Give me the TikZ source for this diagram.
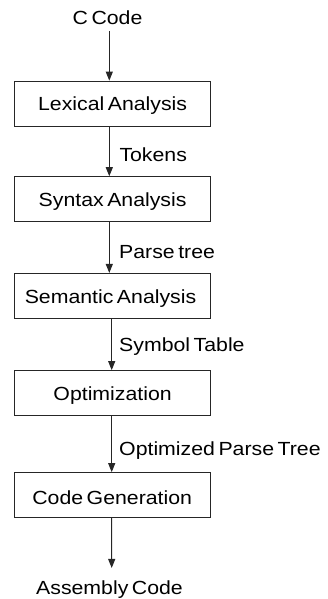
\documentclass[tikz,border=0pt]{standalone}
\usepackage{fontspec}
\setmainfont{Liberation Sans}[FakeStretch=1.12,WordSpace=0.6]
\usetikzlibrary{arrows.meta}
\begin{document}
\begin{tikzpicture}[x=1pt,y=1pt,
  font=\fontsize{19}{22}\selectfont,
  stage/.style={draw=black!85,line width=1.1pt,minimum width=196pt,minimum height=45pt,inner sep=0pt},
  flow/.style={draw=black!85,line width=1pt,-{Triangle[width=7pt,length=9pt]}},
  lbl/.style={anchor=base west,inner sep=0pt},
  io/.style={anchor=base,inner sep=0pt}]
\useasboundingbox (0,0) rectangle (327,599);
% compiler stages, top to bottom
\node[stage] (lex) at (112.6,495.3) {};
\node[stage] (syn) at (112.6,399.7) {};
\node[stage] (sem) at (112.6,303.0) {};
\node[stage] (opt) at (112.6,205.8) {};
\node[stage] (gen) at (112.6,103.8) {};
\node[io] (lextxt) at (112.6,488) {Lexical Analysis};
\node[io] (syntxt) at (112.6,392) {Syntax Analysis};
\node[io] (semtxt) at (110.5,295.5) {Semantic Analysis};
\node[io] (opttxt) at (112.6,198.5) {Optimization};
\node[io] (gentxt) at (112.2,94.7) {Code Generation};
% input and output
\node[io] (src) at (107.5,574) {C Code};
\node[io] (asm) at (109.5,5) {Assembly Code};
\coordinate (srcend) at (109.3,568);
\coordinate (asmend) at (111.7,31);
% arrows between stages
\draw[flow] (srcend) -- ([xshift=-3.3pt]lex.north);
\draw[flow] ([xshift=-3.3pt]lex.south) -- ([xshift=-3.3pt]syn.north);
\draw[flow] ([xshift=-3.3pt]syn.south) -- ([xshift=-3.3pt]sem.north);
\draw[flow] ([xshift=-0.9pt]sem.south) -- ([xshift=-0.9pt]opt.north);
\draw[flow] ([xshift=-0.9pt]opt.south) -- ([xshift=-0.9pt]gen.north);
\draw[flow] ([xshift=-0.9pt]gen.south) -- (asmend);
% intermediate representations
\node[lbl] (t1) at (119.3,437.3) {Tokens};
\node[lbl] (t2) at (119,340.7) {Parse tree};
\node[lbl] (t3) at (119,247.3) {Symbol Table};
\node[lbl] (t4) at (119,143.3) {Optimized Parse Tree};
\end{tikzpicture}
\end{document}
